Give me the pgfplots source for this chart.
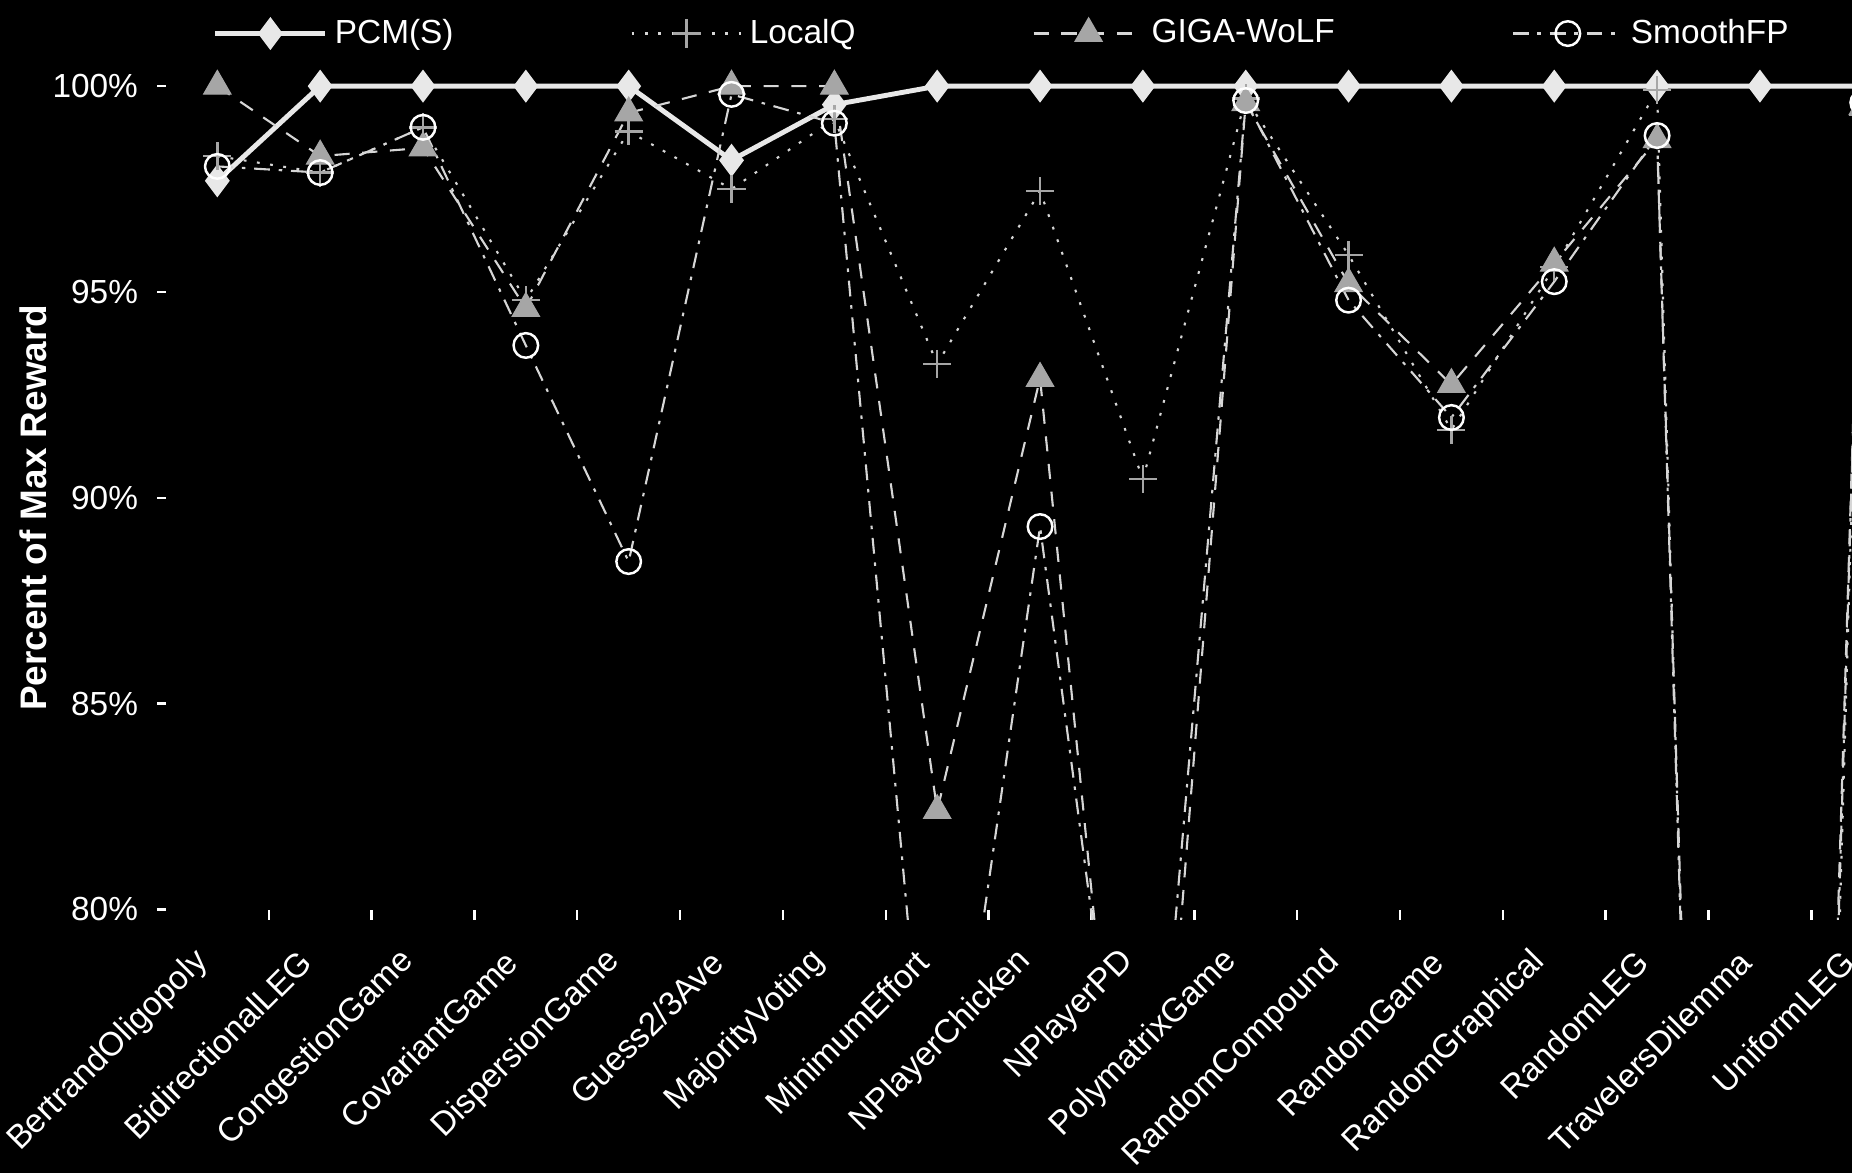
\documentclass[border=0pt]{standalone}
\usepackage{pgfplots}
\usepackage{pgfplotstable}
\pgfplotsset{compat=1.18}
\usepackage{fontspec}
\setmainfont{Liberation Sans}
\definecolor{lineW}{HTML}{E8E8E8}
\definecolor{lineL}{HTML}{D6D6D6}
\definecolor{markG}{HTML}{A6A6A6}

\pgfplotstableread{
x pcm localiq giga smooth
0 97.7 98.3 100 98.05
1 100 97.9 98.3 97.9
2 100 99.0 98.5 99.0
3 100 94.8 94.6 93.7
4 100 98.9 99.35 88.45
5 98.2 97.5 100 99.8
6 99.55 99.2 100 99.1
7 100 93.25 82.4 72.0
8 100 97.45 92.9 89.3
9 100 90.45 68.0 70.5
10 100 99.7 99.6 99.65
11 100 95.9 95.2 94.8
12 100 91.65 92.75 91.95
13 100 95.6 95.7 95.25
14 100 99.9 98.7 98.8
15 100 12 18 15
16 100 99.3 99.5 99.6
}\datatable

\begin{document}
\begin{tikzpicture}
\path[use as bounding box, fill=black] (0,0) rectangle (18.52cm,11.73cm);
\clip (0,0) rectangle (18.52cm,11.73cm);
\begin{axis}[
  at={(1.659cm,2.533cm)}, anchor=south west,
  scale only axis, width=17.483cm, height=8.582cm,
  xmin=-0.5, xmax=16.5, ymin=79.75, ymax=100.6,
  axis line style={draw=none},
  tick pos=left, tick align=outside,
  major tick length=0.085cm, minor tick length=0.1cm,
  tick style={white, line width=0.7pt},
  xtick={0,...,16},
  xticklabels={BertrandOligopoly, BidirectionalLEG, CongestionGame, CovariantGame, DispersionGame, Guess2/3Ave, MajorityVoting, MinimumEffort, NPlayerChicken, NPlayerPD, PolymatrixGame, RandomCompound, RandomGame, RandomGraphical, RandomLEG, TravelersDilemma, UniformLEG},
  major x tick style={draw=none},
  minor xtick={0.5,1.5,...,15.5},
  minor x tick style={yshift=0.1cm},
  ytick={80,85,90,95,100},
  yticklabels={80\%,85\%,90\%,95\%,100\%},
  ticklabel style={text=white, font=\fontsize{9.5}{11}\selectfont},
  xticklabel style={rotate=45, anchor=east, xshift=-0.18cm, yshift=-0.10cm},
  yticklabel style={xshift=-2pt},
  ylabel={Percent of Max Reward},
  ylabel style={text=white, font=\bfseries\fontsize{10.5}{12}\selectfont, at={(axis description cs:-0.076,0.48)}, anchor=center},
  legend columns=4,
  legend cell align=left,
  legend style={at={(axis description cs:0.0265,1.0325)}, anchor=west, draw=none, fill=none, text=white, inner sep=0pt, font=\fontsize{9.5}{11}\selectfont, /tikz/every even column/.append style={column sep=1.7cm}},
  legend image code/.code={\draw[mark repeat=2,mark phase=2,#1] plot coordinates {(0cm,0cm) (0.55cm,0cm) (1.1cm,0cm)};},
]
\addplot[color=lineW, line width=1.4pt, mark=diamond*, mark size=4.3pt, mark options={solid, fill=lineW, draw=lineW, line width=0.5pt}] table[x=x,y=pcm]{\datatable};
\addlegendentry{PCM(S)}
\addplot[color=lineL, line width=0.6pt, dash pattern=on 0.8pt off 3pt, mark=+, mark size=4pt, mark options={solid, draw=markG, line width=0.7pt}] table[x=x,y=localiq]{\datatable};
\addlegendentry{LocalQ}
\addplot[color=lineL, line width=0.6pt, dash pattern=on 4.3pt off 3.6pt, mark=triangle*, mark size=4.5pt, mark options={solid, fill=markG, draw=markG, line width=0.3pt}] table[x=x,y=giga]{\datatable};
\addlegendentry{GIGA-WoLF}
\addplot[color=lineL, line width=0.6pt, dash pattern=on 4.5pt off 2.5pt on 1pt off 2.5pt, mark=o, mark size=3.5pt, mark options={solid, draw=white, line width=0.7pt}] table[x=x,y=smooth]{\datatable};
\addlegendentry{SmoothFP}
\end{axis}
\end{tikzpicture}
\end{document}
